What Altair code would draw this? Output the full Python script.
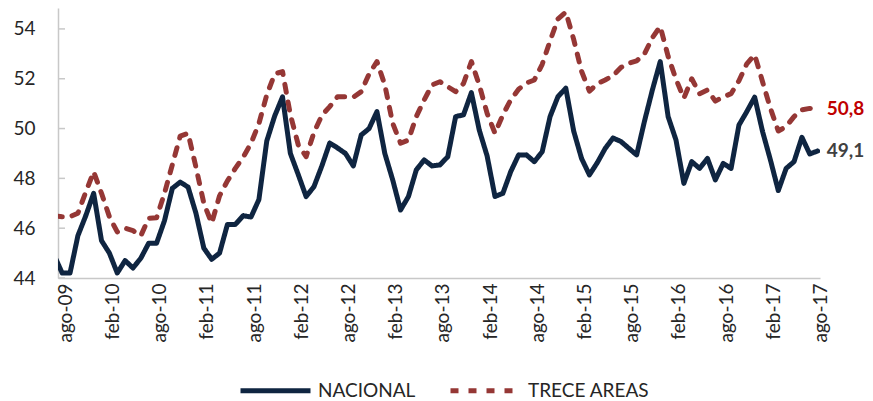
import altair as alt
import pandas as pd

tick_labels = ["ago-09", "feb-10", "ago-10", "feb-11", "ago-11", "feb-12", "ago-12",
               "feb-13", "ago-13", "feb-14", "ago-14", "feb-15", "ago-15", "feb-16",
               "ago-16", "feb-17", "ago-17"]
tick_positions = [0, 6, 12, 18, 24, 30, 36, 42, 48, 54, 60, 66, 72, 78, 84, 90, 96]
y_ticks = [44, 46, 48, 50, 52, 54]
series_names = ["NACIONAL", "TRECE AREAS"]
line_colors = ["#0F2541", "#953735"]
end_label_colors = ["#404040", "#C00000"]

# month index: -1 = jul-09 (clipped at the axis), 0 = ago-09 ... 96 = ago-17
month_index = list(range(-1, 97))

nacional = [
    44.9,
    44.2, 44.2, 45.7, 46.5, 47.4, 45.5, 45.0, 44.2, 44.7, 44.4, 44.8, 45.4,
    45.4, 46.3, 47.6, 47.85, 47.65, 46.6, 45.2, 44.75, 45.0, 46.15, 46.15, 46.5,
    46.45, 47.15, 49.5, 50.5, 51.27, 49.0, 48.15, 47.27, 47.67, 48.5, 49.42, 49.22,
    49.0, 48.5, 49.74, 50.0, 50.68, 49.0, 47.94, 46.73, 47.27, 48.34, 48.74, 48.5,
    48.54, 48.87, 50.48, 50.55, 51.44, 49.94, 48.9, 47.27, 47.4, 48.27, 48.94, 48.94,
    48.67, 49.07, 50.48, 51.28, 51.62, 49.9, 48.8, 48.14, 48.63, 49.2, 49.62, 49.48,
    49.21, 48.94, 50.3, 51.55, 52.69, 50.48, 49.54, 47.8, 48.67, 48.4, 48.8, 47.94,
    48.6, 48.4, 50.14, 50.68, 51.26, 49.88, 48.74, 47.51, 48.4, 48.67, 49.65, 48.98,
    49.1,
]

trece = [
    46.5,
    46.46, 46.46, 46.6, 47.45, 48.27, 47.4, 46.46, 45.85, 46.0, 45.9, 45.7, 46.4,
    46.42, 47.4, 48.55, 49.7, 49.81, 48.45, 47.0, 46.2, 47.3, 47.9, 48.4, 48.85,
    49.41, 50.2, 51.35, 52.19, 52.29, 50.55, 49.35, 48.87, 49.85, 50.53, 50.88, 51.28,
    51.28, 51.26, 51.48, 52.19, 52.69, 51.75, 50.21, 49.41, 49.54, 50.48, 51.15, 51.75,
    51.88, 51.68, 51.48, 51.81, 52.69, 51.75, 50.61, 49.81, 50.55, 51.15, 51.58, 51.83,
    51.95, 52.58, 53.52, 54.4, 54.68, 53.58, 52.3, 51.5, 51.8, 51.95, 52.12, 52.45,
    52.62, 52.72, 53.0, 53.65, 54.1, 52.9, 51.98, 51.22, 52.0, 51.4, 51.55, 51.1,
    51.27, 51.4, 51.92, 52.6, 52.96, 51.88, 50.81, 49.9, 50.08, 50.48, 50.75, 50.81,
    50.8,
]

rows = []
for name, values in zip(series_names, [nacional, trece]):
    for m, v in zip(month_index, values):
        rows.append({"mes": m, "valor": v, "serie": name})
df = pd.DataFrame(rows)

last = df[df["mes"] == month_index[-1]].copy()
last["etiqueta"] = last["valor"].map(lambda v: f"{v:.1f}".replace(".", ","))

FONT = "Lato"
x_scale = alt.Scale(domain=[-0.53, 96.3], nice=False, zero=False)
y_scale = alt.Scale(domain=[44, 54.84], nice=False, zero=False)

label_expr = "[" + ",".join(f"'{t}'" for t in tick_labels) + "][round(datum.value/6)]"

legend_cfg = alt.Legend(
    title=None, orient="none", direction="horizontal", legendX=180, legendY=345,
    symbolType="stroke", symbolSize=4900, symbolStrokeWidth=5,
    labelFont=FONT, labelFontSize=19, labelColor="#262626",
    labelOffset=5, columnPadding=24,
)

y_axis = alt.Axis(
    values=y_ticks, title=None, grid=False, ticks=False,
    domainColor="#C8C8C8", domainWidth=1.5,
    labelFont=FONT, labelFontSize=19, labelColor="#262626", labelPadding=23)

lines = alt.Chart(df).mark_line(
    strokeWidth=5, clip=True, strokeCap="round", strokeJoin="round"
).encode(
    x=alt.X("mes:Q", scale=x_scale, axis=alt.Axis(
        values=tick_positions, labelExpr=label_expr, labelAngle=270, title=None,
        grid=False, ticks=False, domainColor="#C8C8C8", domainWidth=1.5,
        labelFont=FONT, labelFontSize=19, labelColor="#262626",
        labelPadding=5, labelOffset=3, labelOverlap=False)),
    y=alt.Y("valor:Q", scale=y_scale, axis=y_axis),
    color=alt.Color("serie:N", scale=alt.Scale(domain=series_names, range=line_colors),
                    legend=legend_cfg),
    strokeDash=alt.StrokeDash("serie:N", scale=alt.Scale(domain=series_names,
                              range=[[1, 0], [8, 10]]), legend=legend_cfg),
)

ticks_inside = alt.Chart(pd.DataFrame({"v": y_ticks})).mark_rule(
    color="#C8C8C8", strokeWidth=1.5
).encode(
    y=alt.Y("v:Q", scale=y_scale, axis=y_axis),
    x=alt.value(0), x2=alt.value(7),
)

text_layers = []
for name, col in zip(series_names, end_label_colors):
    text_layers.append(
        alt.Chart(last[last["serie"] == name]).mark_text(
            align="left", baseline="middle", dx=9, font=FONT, fontSize=19,
            fontWeight="bold", color=col
        ).encode(
            x=alt.X("mes:Q", scale=x_scale),
            y=alt.Y("valor:Q", scale=y_scale),
            text="etiqueta:N",
        )
    )

chart = alt.layer(lines, ticks_inside, *text_layers).properties(
    width=762, height=270,
    padding={"left": 4, "top": 0, "right": 0, "bottom": 0},
).configure_view(stroke=None)

chart.save("out.html", embed_options={"renderer": "svg", "actions": False})
